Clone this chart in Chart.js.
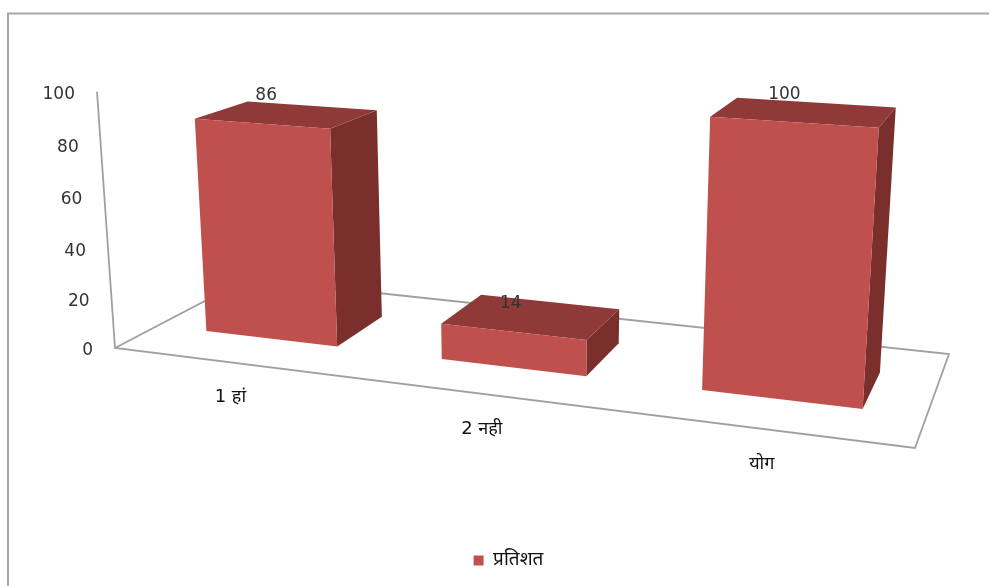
<!DOCTYPE html>
<html>
<head>
<meta charset="utf-8">
<style>
  html, body { margin: 0; padding: 0; background: #fff; }
  canvas { display: block; }
</style>
<script src="https://cdn.jsdelivr.net/npm/chart.js@4"></script>
</head>
<body>
<canvas id="chart" width="989" height="586"></canvas>
<script>
const categories = ['1 हां', '2 नही', 'योग'];
const seriesName = 'प्रतिशत';
const seriesValues = [86, 14, 100];
const axisMax = 100;
const axisStep = 20;

const FRONT = '#C0504D';
const TOP = '#8F3A38';
const SIDE = '#7A2F2D';
const RULE = '#A0A0A0';
const TEXT = '#333333';
const SCRIPT_TEXT = '#111111';

// Corners of the floor in the perspective view: axis origin, right front,
// right back, left back; plus the vertical vanishing point and wall strength.
const floorQuad = [[115, 348], [915, 448], [949, 354], [247, 279]];
const verticalVanish = [529, 6240];
const wallStrength = -0.04167;
const depthNear = 0.30;
const depthFar = 0.70;
// Value labels lean slightly towards the middle of the floor.
const labelLean = 20;

// Unit square to floor quad homography, extended with a height column.
function buildProjection() {
  const [[x0, y0], [x1, y1], [x2, y2], [x3, y3]] = floorQuad;
  const dx1 = x1 - x2, dx2 = x3 - x2, sx = x0 - x1 + x2 - x3;
  const dy1 = y1 - y2, dy2 = y3 - y2, sy = y0 - y1 + y2 - y3;
  const den = dx1 * dy2 - dx2 * dy1;
  const g = (sx * dy2 - dx2 * sy) / den;
  const h = (dx1 * sy - sx * dy1) / den;
  const a = x1 - x0 + g * x1, b = x3 - x0 + h * x3;
  const d = y1 - y0 + g * y1, e = y3 - y0 + h * y3;
  const k = wallStrength;
  return (u, t, v) => {
    const w = g * u + h * t + k * v + 1;
    return [
      (a * u + b * t + k * verticalVanish[0] * v + x0) / w,
      (d * u + e * t + k * verticalVanish[1] * v + y0) / w
    ];
  };
}
const project = buildProjection();

function fillPoly(ctx, pts, color) {
  ctx.beginPath();
  pts.forEach((p, i) => i ? ctx.lineTo(p[0], p[1]) : ctx.moveTo(p[0], p[1]));
  ctx.closePath();
  ctx.fillStyle = color;
  ctx.fill();
}

function strokePath(ctx, pts, closed) {
  ctx.beginPath();
  pts.forEach((p, i) => i ? ctx.lineTo(p[0], p[1]) : ctx.moveTo(p[0], p[1]));
  if (closed) ctx.closePath();
  ctx.stroke();
}

function barBox(chart, el) {
  const area = chart.chartArea;
  return {
    u0: (el.x - el.width / 2 - area.left) / area.width,
    u1: (el.x + el.width / 2 - area.left) / area.width,
    uc: (el.x - area.left) / area.width,
    v1: (area.bottom - el.y) / area.height,
    v0: (area.bottom - el.base) / area.height
  };
}

const perspectivePlugin = {
  id: 'perspective',
  beforeDraw(chart) {
    const ctx = chart.ctx;
    ctx.save();
    ctx.fillStyle = '#fff';
    ctx.fillRect(0, 0, chart.width, chart.height);
    // Outer chart frame, open towards the right and bottom of the page.
    ctx.strokeStyle = '#A6A6A6';
    ctx.lineWidth = 2;
    strokePath(ctx, [[8, chart.height], [8, 13.5], [chart.width, 13.5]], false);
    ctx.restore();
  },
  beforeDatasetsDraw(chart) {
    const ctx = chart.ctx;
    const yScale = chart.scales.y;
    const area = chart.chartArea;
    ctx.save();
    ctx.strokeStyle = RULE;
    ctx.lineWidth = 1.8;
    strokePath(ctx, [project(0, 0, 1), project(0, 0, 0), project(1, 0, 0),
                     project(1, 1, 0), project(0, 1, 0), project(0, 0, 0)], false);
    // Value axis labels run along the slanted wall edge.
    ctx.font = '17px "DejaVu Sans"';
    ctx.fillStyle = TEXT;
    ctx.textAlign = 'right';
    ctx.textBaseline = 'middle';
    yScale.ticks.forEach(tick => {
      const v = (area.bottom - yScale.getPixelForValue(tick.value)) / area.height;
      const p = project(0, 0, v);
      ctx.fillText(String(tick.value), p[0] - 22, p[1] + 3);
    });
    // Category labels sit under the front floor edge.
    ctx.textAlign = 'center';
    ctx.fillStyle = SCRIPT_TEXT;
    ctx.font = '18px "DejaVu Sans", "Noto Sans", sans-serif';
    chart.scales.x.ticks.forEach((tick, i) => {
      const u = (chart.scales.x.getPixelForTick(i) - area.left) / area.width;
      const p = project(u, 0, 0);
      ctx.fillText(categories[tick.value], p[0] - 1, p[1] + 35);
    });
    ctx.restore();
  },
  beforeDatasetDraw(chart, args) {
    const ctx = chart.ctx;
    ctx.save();
    args.meta.data.forEach(el => {
      const b = barBox(chart, el);
      const n0 = project(b.u0, depthNear, b.v0), n1 = project(b.u1, depthNear, b.v0);
      const n2 = project(b.u1, depthNear, b.v1), n3 = project(b.u0, depthNear, b.v1);
      const f1 = project(b.u1, depthFar, b.v0), f2 = project(b.u1, depthFar, b.v1);
      const f3 = project(b.u0, depthFar, b.v1);
      fillPoly(ctx, [n1, f1, f2, n2], SIDE);
      fillPoly(ctx, [n3, n2, f2, f3], TOP);
      fillPoly(ctx, [n0, n1, n2, n3], FRONT);
    });
    ctx.restore();
    return false;
  },
  afterDatasetsDraw(chart) {
    const ctx = chart.ctx;
    const meta = chart.getDatasetMeta(0);
    ctx.save();
    ctx.font = '17px "DejaVu Sans"';
    ctx.fillStyle = TEXT;
    ctx.textAlign = 'center';
    ctx.textBaseline = 'middle';
    meta.data.forEach((el, i) => {
      const b = barBox(chart, el);
      const p = project(b.uc, depthNear, b.v1);
      ctx.fillText(String(seriesValues[i]), p[0] - 2 + (0.5 - b.uc) * labelLean, p[1] - 28);
    });
    ctx.restore();
  }
};

new Chart(document.getElementById('chart'), {
  type: 'bar',
  data: {
    labels: categories,
    datasets: [{
      label: seriesName,
      data: seriesValues,
      backgroundColor: FRONT,
      borderWidth: 0,
      categoryPercentage: 1,
      barPercentage: 0.568
    }]
  },
  plugins: [perspectivePlugin],
  options: {
    responsive: false,
    animation: false,
    events: [],
    layout: { padding: { left: 28, right: 0, top: 20, bottom: 6 } },
    scales: {
      x: { grid: { display: false }, border: { display: false }, ticks: { display: false } },
      y: {
        min: 0, max: axisMax,
        grid: { display: false }, border: { display: false },
        ticks: { display: false, stepSize: axisStep }
      }
    },
    plugins: {
      tooltip: { enabled: false },
      legend: {
        position: 'bottom',
        labels: {
          boxWidth: 10, boxHeight: 10, padding: 10, color: SCRIPT_TEXT,
          font: { family: '"DejaVu Sans", "Noto Sans", sans-serif', size: 19 }
        }
      }
    }
  }
});
</script>
</body>
</html>
